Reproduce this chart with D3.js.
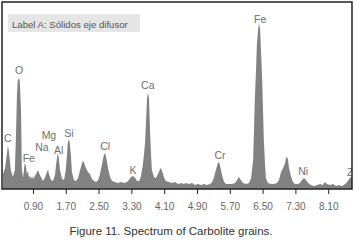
<!DOCTYPE html>
<html>
<head>
<meta charset="utf-8">
<script src="https://cdn.jsdelivr.net/npm/d3@7"></script>
<style>
  body { margin: 0; background: #fff; }
  svg { display: block; font-family: "Liberation Sans", Arial, sans-serif; }
</style>
</head>
<body>
<svg id="chart" width="356" height="242"></svg>
<script>
// spectrum: energy (keV) and counts (arbitrary units)
var energy = [0.17,0.22,0.27,0.29,0.31,0.36,0.41,0.46,0.49,0.51,0.53,0.56,0.58,0.61,0.63,0.66,0.68,0.70,0.73,0.75,
  0.78,0.80,0.83,0.85,0.88,0.90,0.95,1.00,1.02,1.07,1.12,1.14,1.19,1.24,1.27,1.29,1.34,1.39,1.44,1.46,
  1.49,1.51,1.53,1.56,1.61,1.66,1.70,1.73,1.75,1.78,1.80,1.83,1.85,1.90,1.95,2.00,2.05,2.10,2.12,2.14,
  2.19,2.24,2.29,2.34,2.39,2.44,2.49,2.53,2.58,2.63,2.66,2.68,2.73,2.78,2.83,2.90,2.97,3.05,3.12,3.19,
  3.24,3.29,3.34,3.39,3.44,3.49,3.53,3.58,3.63,3.66,3.68,3.70,3.73,3.75,3.78,3.80,3.85,3.90,3.95,4.00,
  4.02,4.05,4.10,4.14,4.22,4.29,4.36,4.44,4.51,4.58,4.63,4.70,4.78,4.85,4.92,5.00,5.07,5.14,5.22,5.27,
  5.31,5.36,5.41,5.44,5.46,5.51,5.56,5.61,5.68,5.75,5.83,5.88,5.92,5.97,6.02,6.10,6.17,6.22,6.27,6.29,
  6.31,6.34,6.36,6.39,6.41,6.44,6.46,6.49,6.51,6.53,6.56,6.58,6.63,6.70,6.78,6.85,6.90,6.95,7.00,7.05,
  7.07,7.10,7.12,7.14,7.19,7.24,7.29,7.36,7.41,7.46,7.51,7.56,7.61,7.68,7.75,7.83,7.90,7.97,8.02,8.07,
  8.14,8.22,8.29,8.36,8.44,8.51,8.56,8.61,8.66,8.68];
var counts = [15,21,37,43,39,19,12,19,59,94,109,111,107,79,19,11,19,26,23,15,
  18,12,13,10,13,10,13,17,19,14,10,8,11,17,19,15,9,8,14,23,
  32,36,31,19,10,9,19,34,46,50,45,31,17,9,8,11,19,26,28,27,
  21,17,15,10,8,7,9,14,24,34,36,33,21,12,8,7,6,7,6,7,
  9,12,13,11,8,8,12,24,44,69,89,96,91,64,34,19,12,11,15,20,
  21,18,11,8,7,6,7,5,6,5,6,5,6,4,5,4,5,4,5,7,
  11,19,26,27,24,14,7,5,5,5,6,9,12,9,6,5,6,11,29,59,
  89,119,144,159,166,159,139,109,79,49,24,11,6,5,5,6,9,17,21,26,
  31,32,29,22,13,7,5,5,6,9,11,9,6,4,3,4,5,4,7,5,
  4,5,3,4,3,5,7,10,12,13];

// element labels
var elements = ["C","O","Fe","Na","Mg","Al","Si","Cl","K","Ca","Cr","Fe","Ni","Zn"];
var elementE = [0.29,0.56,0.80,1.12,1.29,1.53,1.78,2.66,3.34,3.70,5.46,6.44,7.49,8.56];
var elementY = [47,115,27,38,50,35,52,39,15,100,30,166,14,13];

var tickVals = [0.90,1.70,2.50,3.30,4.10,4.90,5.70,6.50,7.30,8.10];
var labelText = "Label A: Sólidos eje difusor";
var caption = "Figure 11. Spectrum of Carbolite grains.";

var svg = d3.select("#chart");
// note: "top" is taken by window.top, so frame edges get their own names
var frameL = 2, frameR = 352, frameT = 2, frameB = 189;

var x = d3.scaleLinear().domain([0.17, 8.68]).range([frameL + 1, frameR]);
var y = d3.scaleLinear().domain([0, 187]).range([frameB, frameT]);

svg.append("clipPath").attr("id", "plotclip")
  .append("rect")
    .attr("x", frameL).attr("y", frameT)
    .attr("width", frameR - frameL).attr("height", frameB - frameT);

var plot = svg.append("g").attr("clip-path", "url(#plotclip)");

var pts = energy.map(function(e, i) { return [e, counts[i]]; });
var area = d3.area()
  .x(function(d) { return x(d[0]); })
  .y0(y(0))
  .y1(function(d) { return y(d[1]); });

plot.append("path")
  .datum(pts)
  .attr("d", area)
  .attr("fill", "#828282");

// label A box
plot.append("rect")
  .attr("x", 8).attr("y", 14)
  .attr("width", 132).attr("height", 18)
  .attr("fill", "#e6e6e6");
plot.append("text")
  .attr("x", 12).attr("y", 27.5)
  .attr("font-size", 9.6)
  .attr("fill", "#555")
  .text(labelText);

plot.selectAll("text.el")
  .data(elements)
  .enter().append("text")
    .attr("class", "el")
    .attr("x", function(d, i) { return x(elementE[i]); })
    .attr("y", function(d, i) { return y(elementY[i]); })
    .attr("text-anchor", function(d, i) { return i == elements.length - 1 ? "start" : "middle"; })
    .attr("font-size", 10.5)
    .attr("fill", "#707070")
    .text(function(d) { return d; });

// frame
svg.append("rect")
  .attr("x", frameL).attr("y", frameT)
  .attr("width", frameR - frameL).attr("height", frameB - frameT)
  .attr("fill", "none")
  .attr("stroke", "#222")
  .attr("stroke-width", 1.5);

var xAxis = d3.axisBottom(x)
  .tickValues(tickVals)
  .tickSize(5)
  .tickPadding(9)
  .tickFormat(d3.format(".2f"));

var ax = svg.append("g")
  .attr("transform", "translate(0," + frameB + ")")
  .call(xAxis);
ax.select(".domain").remove();
ax.selectAll("line").attr("stroke", "#222").attr("stroke-width", 1);
ax.selectAll("text")
  .attr("font-size", 10)
  .attr("fill", "#666")
  .attr("font-family", "Liberation Sans, Arial, sans-serif");

svg.append("text")
  .attr("x", 171).attr("y", 235)
  .attr("text-anchor", "middle")
  .attr("font-size", 11.5)
  .attr("fill", "#333")
  .text(caption);
</script>
</body>
</html>
